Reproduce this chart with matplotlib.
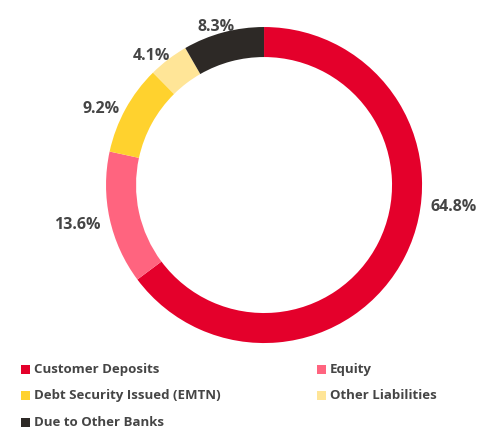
import numpy as np
import matplotlib.pyplot as plt
from matplotlib.patches import Rectangle
from matplotlib.transforms import offset_copy

labels = ['Customer Deposits', 'Equity', 'Debt Security Issued (EMTN)',
          'Other Liabilities', 'Due to Other Banks']
shares = [64.8, 13.6, 9.2, 4.1, 8.3]
colors = ['#E4002B', '#FF647F', '#FFD22E', '#FFE597', '#2D2926']

plt.rcParams['font.family'] = ['Open Sans', 'DejaVu Sans']
text_col = '#454545'

fig = plt.figure(figsize=(4.87, 4.29), dpi=100)
ax = fig.add_axes([0, 0, 1, 1])

wedges, _ = ax.pie(shares, colors=colors, startangle=90, counterclock=False,
                   radius=1.0, wedgeprops=dict(width=0.19, linewidth=0))
ax.set_xlim(-1.671, 1.411)
ax.set_ylim(-1.544, 1.171)
ax.set_aspect('auto')
ax.axis('off')

renderer = fig.canvas.get_renderer()

# data labels just outside the ring (the big one was dragged in the original)
for i, (w, v) in enumerate(zip(wedges, shares)):
    deg = (w.theta1 + w.theta2) / 2
    if i == 0:
        deg = -6
    ang = np.deg2rad(deg)
    r = 1.06
    x, y = r * np.cos(ang), r * np.sin(ang)
    t = ax.text(x, y, f'{v:.1f}%', ha='center', va='center', fontsize=11.5,
                fontweight='bold', color=text_col)
    half_w = t.get_window_extent(renderer).width / 2 * 72 / fig.dpi
    t.set_transform(offset_copy(ax.transData, fig=fig,
                                x=half_w * np.cos(ang), y=-3, units='points'))

# legend, two columns, row-major
for i, (lab, c) in enumerate(zip(labels, colors)):
    row, col = i // 2, i % 2
    x0 = 21 / 487 + col * 296 / 487
    y0 = 1 - (369 + row * 26.5) / 429
    fig.patches.append(Rectangle((x0, y0 - 4.5 / 429), 9 / 487, 9 / 429,
                                 transform=fig.transFigure, color=c, lw=0))
    fig.text(x0 + 13 / 487, y0, lab, ha='left', va='center', fontsize=9.5,
             fontweight='bold', color=text_col)

fig.savefig('out.png', dpi=100)
